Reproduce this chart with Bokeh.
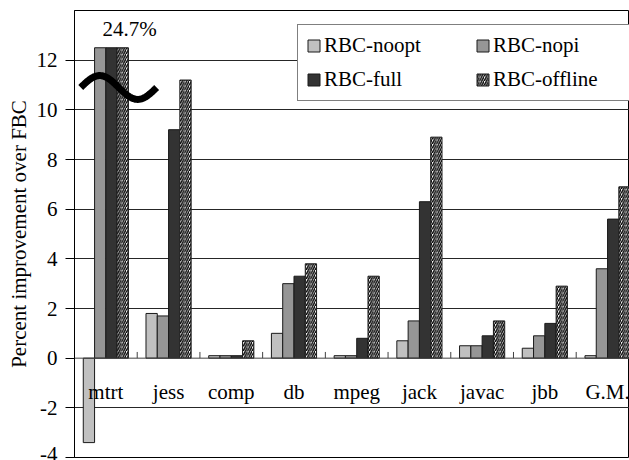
import numpy as np
from bokeh.plotting import figure
from bokeh.models import (Range1d, FixedTicker, Span, Legend, LegendItem,
                          ColumnDataSource)
from bokeh.core.properties import value
from bokeh.embed import file_html
from bokeh.resources import INLINE

# ---------------- data ----------------
categories = ["mtrt", "jess", "comp", "db", "mpeg", "jack", "javac", "jbb", "G.M."]
rbc_noopt = [-3.4, 1.8, 0.1, 1.0, 0.1, 0.7, 0.5, 0.4, 0.1]
rbc_nopi = [12.5, 1.7, 0.1, 3.0, 0.1, 1.5, 0.5, 0.9, 3.6]
rbc_full = [12.5, 9.2, 0.1, 3.3, 0.8, 6.3, 0.9, 1.4, 5.6]
rbc_offline = [12.5, 11.2, 0.7, 3.8, 3.3, 8.9, 1.5, 2.9, 6.9]
series_names = ["RBC-noopt", "RBC-nopi", "RBC-full", "RBC-offline"]
y_ticks = [-4, -2, 0, 2, 4, 6, 8, 10, 12]
grid_ticks = [-2, 2, 4, 6, 8, 10, 12]
break_label = "24.7%"

FONT = "Liberation Serif"
FS = "21px"

p = figure(width=629, height=460, output_backend="svg", toolbar_location=None,
           x_range=Range1d(0, 8.85), y_range=Range1d(-4, 14),
           x_axis_type=None, min_border_left=74, min_border_right=0,
           min_border_top=10, min_border_bottom=3)
p.background_fill_color = "white"
p.border_fill_color = "white"
p.outline_line_color = "black"
p.outline_line_width = 1

# y axis
ax = p.yaxis[0]
ax.ticker = FixedTicker(ticks=y_ticks)
ax.major_label_overrides = {t: str(t) for t in y_ticks}
ax.axis_label = "Percent improvement over FBC"
ax.axis_label_text_font = FONT
ax.axis_label_text_font_size = FS
ax.axis_label_text_font_style = "normal"
ax.axis_label_text_color = "black"
ax.axis_label_standoff = 3
ax.major_label_text_font = FONT
ax.major_label_text_font_size = FS
ax.major_label_text_color = "black"
ax.major_label_standoff = 8
ax.major_tick_out = 9
ax.major_tick_in = 0
ax.major_tick_line_color = "black"
ax.minor_tick_line_color = None
ax.axis_line_color = "black"

p.ygrid.ticker = FixedTicker(ticks=grid_ticks)
p.ygrid.grid_line_color = "#262626"
p.ygrid.grid_line_width = 1

# bars
idx = np.arange(len(categories))
centers = idx + 0.5
offsets = [-0.27, -0.09, 0.09, 0.27]
bw = 0.18
colors = ["#c0c0c0", "#969696", "#333333", "white"]
series = [rbc_noopt, rbc_nopi, rbc_full, rbc_offline]
renderers = []
for k, (vals, col) in enumerate(zip(series, colors)):
    src = ColumnDataSource(dict(x=centers + offsets[k], top=vals))
    kw = {}
    if k == 3:
        kw = dict(hatch_pattern="/", hatch_color="black", hatch_scale=4.5,
                  hatch_weight=1.4)
    r = p.vbar(x="x", top="top", bottom=0, width=bw, source=src,
               fill_color=col, line_color="#1a1a1a", line_width=1, **kw)
    renderers.append(r)

# baseline and category ticks
p.add_layout(Span(location=0, dimension="width", line_color="#404040",
                  line_width=1))
bounds = idx[1:]
p.segment(x0=bounds, y0=0, x1=bounds, y1=0.25, line_color="#404040",
          line_width=1)

# category labels
p.text(x=centers, y=[-1.35] * len(categories), text=categories,
       text_font=value(FONT), text_font_size=FS, text_align="center",
       text_baseline="middle", text_color="black")

# axis break squiggle on mtrt
sx = np.linspace(0.1, 1.31, 80)
sy = 10.9 + 0.48 * np.sin((sx - 0.1) / (1.31 - 0.1) * 2 * np.pi)
p.line(sx, sy, line_color="black", line_width=7)

# clipped value label
p.text(x=[0.88], y=[13.25], text=[break_label], text_font=value(FONT),
       text_font_size=FS, text_align="center", text_baseline="middle",
       text_color="black")

# legend: row-major order (noopt, nopi / full, offline) with 2 columns
order = [0, 2, 1, 3]
legend = Legend(items=[LegendItem(label=series_names[i], renderers=[renderers[i]])
                       for i in order],
                ncols=2, location=(223, 356))
legend.label_text_font = FONT
legend.label_text_font_size = FS
legend.label_text_color = "black"
legend.glyph_width = 15
legend.glyph_height = 15
legend.label_standoff = 3
legend.label_width = 142
legend.spacing = 9
legend.padding = 8
legend.margin = 0
legend.border_line_color = "black"
legend.border_line_width = 1
legend.background_fill_color = "white"
legend.background_fill_alpha = 1
p.add_layout(legend)

open("out.html", "w").write(file_html(p, INLINE))
